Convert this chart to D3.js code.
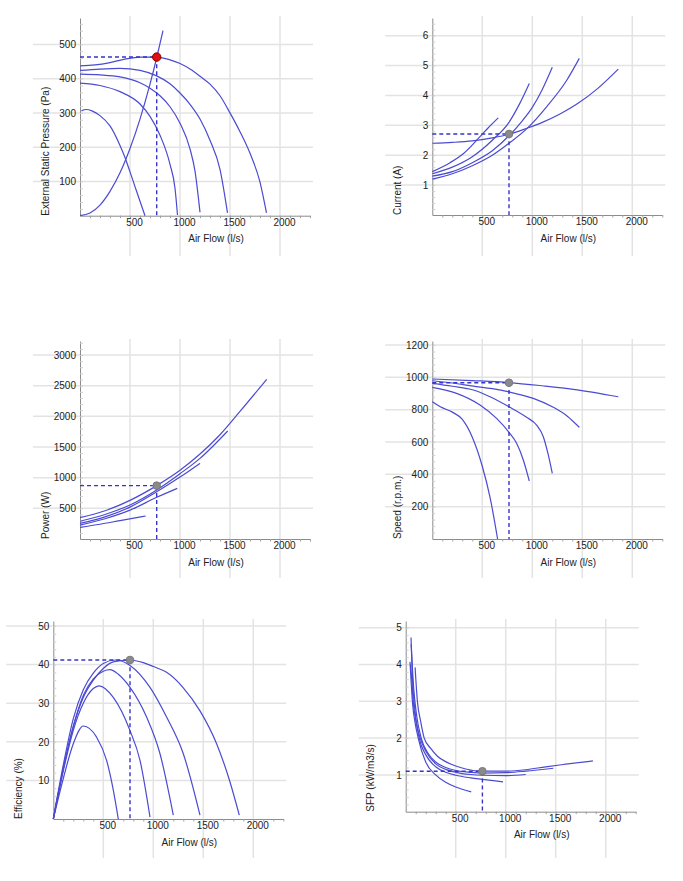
<!DOCTYPE html>
<html>
<head>
<meta charset="utf-8">
<script src="https://cdn.jsdelivr.net/npm/d3@7"></script>
<style>
body { margin: 0; background: #fff; }
text { font-family: "Liberation Sans", Arial, sans-serif; font-size: 10px; fill: #222; }
</style>
</head>
<body>
<div id="container"></div>
<script>
/*
DATA
air flow in l/s; five fan curves (A = highest setting)
*/
const flowTicks = [500, 1000, 1500, 2000];
const dutyFlow = 767;

// external static pressure (Pa)
const pressureTicks = [100, 200, 300, 400, 500];
const pressureA = [[0,437],[150,440],[300,447],[450,457],[600,463],[767,463],[900,455],[1000,444],[1100,428],[1200,407],[1300,384],[1400,350],[1500,300],[1600,245],[1700,182],[1800,98],[1865,8]];
const pressureB = [[0,424],[200,428],[400,430],[600,424],[767,408],[900,385],[1000,358],[1100,325],[1200,282],[1300,220],[1400,135],[1475,8]];
const pressureC = [[0,413],[200,411],[400,405],[600,388],[700,372],[800,350],[900,318],[1000,270],[1100,195],[1150,130],[1200,10]];
const pressureD = [[0,387],[200,380],[400,362],[600,326],[700,290],[800,235],[900,150],[950,80],[975,2]];
const pressureE = [[15,306],[60,310],[120,306],[200,292],[300,262],[400,205],[450,170],[500,128],[550,85],[600,42],[650,0]];
const systemCurve = [[0,0],[100,8],[200,31],[300,71],[400,125],[500,196],[600,282],[700,384],[767,461],[830,540]];
const dutyPressure = 463;

// current (A)
const currentTicks = [1, 2, 3, 4, 5, 6];
const currentA = [[0,2.40],[200,2.43],[400,2.48],[600,2.58],[767,2.70],[943,2.90],[1100,3.10],[1277,3.38],[1450,3.72],[1650,4.22],[1860,4.88]];
const currentB = [[0,1.20],[200,1.38],[400,1.65],[600,2.00],[767,2.40],[943,2.88],[1143,3.62],[1343,4.50],[1470,5.24]];
const currentC = [[0,1.30],[200,1.45],[400,1.75],[600,2.15],[767,2.65],[900,3.15],[1000,3.60],[1100,4.20],[1200,4.94]];
const currentD = [[0,1.38],[200,1.60],[400,1.95],[600,2.50],[767,3.10],[870,3.70],[970,4.40]];
const currentE = [[0,1.45],[177,1.75],[310,2.05],[477,2.62],[560,2.92],[660,3.25]];
const dutyCurrent = 2.71;

// power (W)
const powerTicks = [500, 1000, 1500, 2000, 2500, 3000];
const powerA = [[0,348],[250,460],[500,630],[767,870],[1000,1120],[1200,1385],[1400,1700],[1600,2080],[1867,2603]];
const powerB = [[0,290],[250,400],[500,555],[767,800],[1000,1065],[1200,1315],[1477,1761]];
const powerC = [[0,255],[250,360],[500,520],[767,770],[1000,1010],[1200,1234]];
const powerD = [[0,225],[250,330],[500,470],[767,680],[973,826]];
const powerE = [[0,190],[200,240],[400,300],[657,375]];
const dutyPower = 870;

// speed (r.p.m.)
const speedTicks = [200, 400, 600, 800, 1000, 1200];
const speedA = [[0,990],[400,980],[767,968],[1100,948],[1410,926],[1860,880]];
const speedB = [[0,979],[200,965],[410,946],[600,930],[767,910],[1010,870],[1210,815],[1350,760],[1470,691]];
const speedC = [[0,963],[200,945],[410,922],[577,880],[767,818],[943,753],[1043,705],[1110,633],[1160,520],[1200,406]];
const speedD = [[0,938],[243,901],[477,829],[643,746],[767,660],[843,592],[910,489],[970,359]];
const speedE = [[0,849],[80,818],[200,785],[300,740],[400,630],[500,450],[580,250],[653,0]];
const dutySpeed = 967;

// efficiency (%)
const efficiencyTicks = [10, 20, 30, 40, 50];
const efficiencyA = [[0,0],[100,13],[200,24],[300,31.5],[400,36],[500,39],[600,40.7],[767,41.2],[900,40.5],[1000,39.5],[1133,38],[1300,34],[1467,28],[1633,19.5],[1750,11],[1860,1]];
const efficiencyB = [[0,0],[100,14],[200,26],[300,33.5],[400,37.8],[500,40.3],[620,41.2],[767,39.8],[967,34.1],[1133,26.4],[1300,16.9],[1467,1]];
const efficiencyC = [[0,0],[100,13],[200,24],[300,32],[400,36.3],[500,38.3],[567,38.7],[650,37.5],[767,34.1],[933,26.4],[1067,16.9],[1200,1]];
const efficiencyD = [[0,0],[100,12.5],[200,23],[300,30],[400,33.8],[457,34.5],[600,31.5],[767,22.9],[867,15.2],[967,0.5]];
const efficiencyE = [[0,0],[100,10.5],[200,19.5],[300,24.1],[433,21.2],[533,15.2],[600,7.5],[650,0]];
const dutyEfficiency = 41.2;

// specific fan power (kW/m3/s)
const sfpTicks = [1, 2, 3, 4, 5];
const sfpA = [[94,3.92],[117,3.0],[150,2.45],[185,2.0],[250,1.72],[320,1.5],[400,1.36],[500,1.24],[600,1.16],[767,1.10],[1000,1.10],[1200,1.14],[1400,1.22],[1600,1.29],[1872,1.38]];
const sfpB = [[55,4.55],[65,4.0],[80,3.35],[110,2.6],[155,2.0],[220,1.6],[300,1.35],[400,1.2],[500,1.12],[650,1.07],[767,1.05],[1000,1.06],[1200,1.1],[1477,1.18]];
const sfpC = [[48,4.0],[60,3.6],[75,3.0],[100,2.5],[145,2.0],[200,1.65],[300,1.3],[400,1.15],[500,1.07],[650,1.01],[767,0.99],[1000,0.98],[1201,1.01]];
const sfpD = [[53,4.73],[60,4.2],[70,3.5],[90,2.8],[135,2.0],[200,1.55],[300,1.22],[400,1.07],[500,0.99],[650,0.92],[767,0.88],[973,0.81]];
const sfpE = [[43,4.07],[55,3.5],[70,2.9],[95,2.4],[125,2.0],[200,1.35],[300,1.0],[400,0.8],[500,0.67],[655,0.54]];
const dutySfp = 1.10;

/* LAYOUT - one box per chart, ox/oy = where the axes meet */
const panels = [
  { label: "External Static Pressure (Pa)", ticks: pressureTicks, minor: 20, yMax: 577,
    ox: 80, oy: 215.7, gridTop: 16, gridBottom: 256,
    curves: [pressureA, pressureB, pressureC, pressureD, pressureE, systemCurve], duty: dutyPressure, red: true },
  { label: "Current (A)", ticks: currentTicks, minor: 0.2, yMax: 6.59,
    ox: 432.3, oy: 215, gridTop: 16, gridBottom: 256,
    curves: [currentA, currentB, currentC, currentD, currentE], duty: dutyCurrent },
  { label: "Power (W)", ticks: powerTicks, minor: 100, yMax: 3228,
    ox: 80, oy: 539, gridTop: 339, gridBottom: 578,
    curves: [powerA, powerB, powerC, powerD, powerE], duty: dutyPower },
  { label: "Speed (r.p.m.)", ticks: speedTicks, minor: 40, yMax: 1225,
    ox: 432.3, oy: 539, gridTop: 339, gridBottom: 578,
    curves: [speedA, speedB, speedC, speedD, speedE], duty: dutySpeed },
  { label: "Efficiency (%)", ticks: efficiencyTicks, minor: 2, yMax: 51.3,
    ox: 53.3, oy: 819, gridTop: 619, gridBottom: 858,
    curves: [efficiencyA, efficiencyB, efficiencyC, efficiencyD, efficiencyE], duty: dutyEfficiency },
  { label: "SFP (kW/m3/s)", ticks: sfpTicks, minor: 0.2, yMax: 5.18,
    ox: 405.7, oy: 811.7, gridTop: 619, gridBottom: 858,
    curves: [sfpA, sfpB, sfpC, sfpD, sfpE], duty: dutySfp }
];

const curveColor = "#4b4bd2";
const dashColor = "#3535c8";
const gridColor = "#e3e3e3";
const axisColor = "#8c8c8c";
const plain = d => String(d); /* no thousands separators, no trailing .0 */

const svg = d3.select("#container")
  .append("svg")
  .attr("width", 683)
  .attr("height", 881);

panels.forEach(p => {
  const g = svg.append("g");

  const x = d3.scaleLinear().domain([0, 2300]).range([p.ox, p.ox + 230]);
  const y = d3.scaleLinear().domain([0, p.yMax]).range([p.oy, p.gridTop + 2]);

  /* GRID - runs past the axes like the original */
  g.selectAll(".hgrid")
    .data(p.ticks)
    .join("line")
    .attr("x1", p.ox - 47).attr("x2", p.ox + 233)
    .attr("y1", d => y(d)).attr("y2", d => y(d))
    .attr("stroke", gridColor).attr("stroke-width", 1.5);

  g.selectAll(".vgrid")
    .data(flowTicks)
    .join("line")
    .attr("x1", d => x(d)).attr("x2", d => x(d))
    .attr("y1", p.gridTop).attr("y2", p.gridBottom)
    .attr("stroke", gridColor).attr("stroke-width", 1.5);

  /* AXES */
  const xMinor = g.append("g")
    .attr("transform", `translate(0,${p.oy})`)
    .call(d3.axisBottom(x).tickValues(d3.range(100, 2301, 100)).tickSize(2.5).tickSizeOuter(0).tickFormat(""));
  xMinor.select(".domain").attr("stroke", axisColor);
  xMinor.selectAll(".tick line").attr("stroke", "#a0a0a0");

  const xAxis = g.append("g")
    .attr("transform", `translate(0,${p.oy})`)
    .call(d3.axisBottom(x).tickValues(flowTicks).tickFormat(plain).tickSize(0).tickPadding(3));
  xAxis.select(".domain").remove();
  xAxis.selectAll("text").attr("dx", 4).attr("font-size", 10)
    .attr("font-family", "'Liberation Sans', Arial, sans-serif").attr("fill", "#222");

  const yMinor = g.append("g")
    .attr("transform", `translate(${p.ox},0)`)
    .call(d3.axisRight(y).tickValues(d3.range(p.minor, p.yMax, p.minor)).tickSize(3).tickSizeOuter(0).tickFormat(""));
  yMinor.select(".domain").attr("stroke", axisColor);
  yMinor.selectAll(".tick line").attr("stroke", "#cfcfcf");

  const yAxis = g.append("g")
    .attr("transform", `translate(${p.ox},0)`)
    .call(d3.axisLeft(y).tickValues(p.ticks).tickFormat(plain).tickSize(0).tickPadding(4));
  yAxis.select(".domain").remove();
  yAxis.selectAll("text").attr("font-size", 10)
    .attr("font-family", "'Liberation Sans', Arial, sans-serif").attr("fill", "#222");

  g.append("text")
    .attr("x", p.ox + 136).attr("y", p.oy + 26.5)
    .attr("text-anchor", "middle")
    .text("Air Flow (l/s)");

  g.append("text")
    .attr("transform", `translate(${p.ox - 31.5},${p.oy}) rotate(-90)`)
    .attr("text-anchor", "start")
    .text(p.label);

  /* CURVES */
  const line = d3.line()
    .x(d => x(d[0]))
    .y(d => y(d[1]))
    .curve(d3.curveMonotoneX);

  g.selectAll(".curve")
    .data(p.curves)
    .join("path")
    .attr("d", line)
    .attr("fill", "none")
    .attr("stroke", curveColor)
    .attr("stroke-width", 1.2);

  /* DUTY POINT */
  g.append("path")
    .attr("d", `M${x(0)},${y(p.duty)}H${x(dutyFlow)}V${y(0)}`)
    .attr("fill", "none")
    .attr("stroke", dashColor)
    .attr("stroke-width", 1.4)
    .attr("stroke-dasharray", "4,3");

  g.append("circle")
    .attr("cx", x(dutyFlow)).attr("cy", y(p.duty))
    .attr("r", p.red ? 4.2 : 3.8)
    .attr("fill", p.red ? "#e01010" : "#8a8a8a")
    .attr("stroke", p.red ? "#8a0000" : "#7a7a7a")
    .attr("stroke-width", 1);
});
</script>
</body>
</html>
